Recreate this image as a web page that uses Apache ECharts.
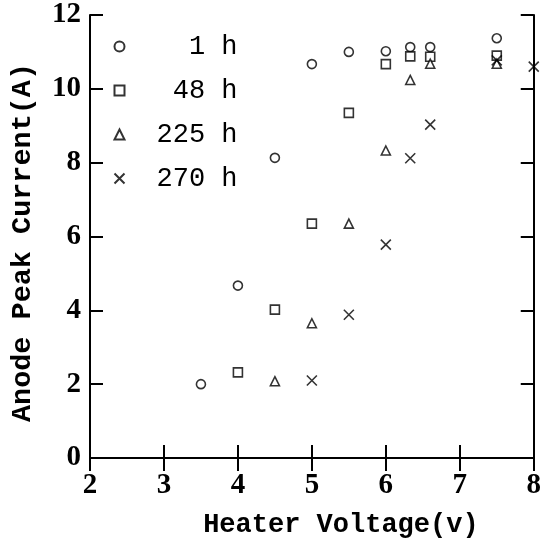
<!DOCTYPE html>
<html>
<head>
<meta charset="utf-8">
<script src="https://cdn.jsdelivr.net/npm/echarts@6/dist/echarts.min.js"></script>
<style>
  html, body { margin: 0; padding: 0; background: #fff; }
  #chart { width: 544px; height: 544px; }
</style>
</head>
<body>
<div id="chart"></div>
<script>
// data
const seriesNames = ['1 h', '48 h', '225 h', '270 h'];
const h1 = [[3.5, 2.0], [4, 4.67], [4.5, 8.13], [5, 10.67], [5.5, 11.0], [6, 11.02], [6.33, 11.13], [6.6, 11.13], [7.5, 11.37]];
const h48 = [[4, 2.32], [4.5, 4.02], [5, 6.35], [5.5, 9.35], [6, 10.67], [6.33, 10.88], [6.6, 10.87], [7.5, 10.9]];
const h225 = [[4.5, 2.08], [5, 3.65], [5.5, 6.35], [6, 8.33], [6.33, 10.24], [6.6, 10.68], [7.5, 10.68]];
const h270 = [[5, 2.1], [5.5, 3.88], [6, 5.78], [6.33, 8.12], [6.6, 9.03], [7.5, 10.77], [8, 10.6]];
const xTicks = [2, 3, 4, 5, 6, 7, 8];
const yTicks = [0, 2, 4, 6, 8, 10, 12];

const chart = echarts.init(document.getElementById('chart'));

const tickFont = { fontFamily: 'Liberation Serif', fontWeight: 'bold', fontSize: 29, color: '#000' };
const lineStyle = { color: '#000', width: 2 };
const tickStyle = { show: true, inside: true, length: 13, lineStyle: { color: '#000', width: 2 } };

function makeX(pos, showLabel) {
    return {
        type: 'value', position: pos, min: xTicks[0], max: xTicks[xTicks.length - 1], interval: 1,
        axisLine: { show: true, lineStyle: lineStyle },
        axisTick: tickStyle,
        axisLabel: Object.assign({ show: showLabel, margin: 13 }, tickFont),
        splitLine: { show: false },
        name: showLabel ? 'Heater Voltage(v)' : '',
        nameLocation: 'middle', nameGap: 54,
        nameTextStyle: { fontFamily: 'Liberation Mono', fontWeight: 'bold', fontSize: 27, color: '#000', padding: [0, 0, 0, 58] }
    };
}
function makeY(pos, showLabel) {
    return {
        type: 'value', position: pos, min: yTicks[0], max: yTicks[yTicks.length - 1], interval: 2,
        axisLine: { show: true, lineStyle: lineStyle },
        axisTick: tickStyle,
        axisLabel: Object.assign({ show: showLabel, margin: 9, padding: [8, 0, 0, 0] }, tickFont),
        splitLine: { show: false },
        name: showLabel ? 'Anode Peak Current(A)' : '',
        nameLocation: 'middle', nameGap: 53,
        nameTextStyle: { fontFamily: 'Liberation Mono', fontWeight: 'bold', fontSize: 28.5, color: '#000', padding: [0, 12, 0, 0] }
    };
}

const open = { color: '#fff', borderColor: '#000', borderWidth: 1.6 };

chart.setOption({
    animation: false,
    backgroundColor: '#fff',
    grid: { left: 89, right: 7, top: 15, bottom: 83 },
    xAxis: [makeX('bottom', true), makeX('top', false)],
    yAxis: [makeY('left', true), makeY('right', false)],
    legend: {
        orient: 'vertical', left: 107, top: 28, itemGap: 17,
        itemWidth: 10, itemHeight: 10,
        textStyle: { fontFamily: 'Liberation Mono', fontSize: 27, color: '#000', padding: [6, 0, 0, 27] },
        formatter: function (name) { return name.padStart(5, ' '); },
        data: seriesNames
    },
    series: [
        { name: seriesNames[0], type: 'scatter', data: h1, symbol: 'circle', symbolSize: 9, itemStyle: open },
        { name: seriesNames[1], type: 'scatter', data: h48, symbol: 'rect', symbolSize: 9, itemStyle: open },
        { name: seriesNames[2], type: 'scatter', data: h225, symbol: 'triangle', symbolSize: 9, itemStyle: open },
        { name: seriesNames[3], type: 'scatter', data: h270, symbol: 'path://M0,0L10,10M10,0L0,10', symbolSize: 10,
          itemStyle: { color: 'none', borderColor: '#000', borderWidth: 1.6 } }
    ]
});
</script>
</body>
</html>
